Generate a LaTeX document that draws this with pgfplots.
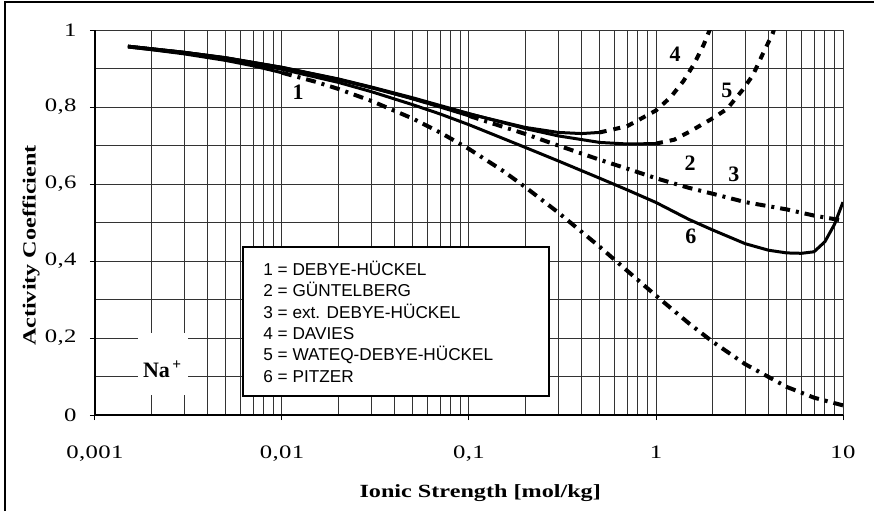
\documentclass[border=0pt]{standalone}
\usepackage{fontspec}
\setmainfont{Liberation Serif}
\newfontfamily\arialfont{Liberation Sans}
\newfontfamily\tickfont[FakeStretch=1.3, LetterSpace=2]{Liberation Serif}
\newfontfamily\labfont[FakeStretch=1.3]{Liberation Serif}
\usepackage{pgfplots}
\pgfplotsset{compat=1.18}

\begin{document}
\begin{tikzpicture}
% page = 874 x 511 px at 0.5pt per px, axis box origin at px (95,415)
\path[use as bounding box] (-47.5pt,-48pt) rectangle (389.5pt,207.5pt);
\draw[line width=0.75pt] (-45pt,-48pt) -- (-45pt,206.5pt) -- (389.5pt,206.5pt);
\begin{axis}[
  at={(0,0)}, anchor=south west,
  scale only axis, width=374pt, height=192.5pt,
  xmode=log, xmin=0.001, xmax=10, ymin=0, ymax=1,
  axis lines*=left,
  axis line style={line width=1pt},
  xtick={0.001,0.01,0.1,1,10},
  xticklabels={{0,001},{0,01},{0,1},1,10},
  ytick={0,0.2,0.4,0.6,0.8,1},
  yticklabels={0,{0,2},{0,4},{0,6},{0,8},1},
  minor ytick={0.1,0.3,0.5,0.7,0.9},
  grid=both,
  major grid style={black!80, line width=0.5pt},
  minor grid style={black!80, line width=0.5pt},
  tick align=outside,
  major tick length=2.5pt, minor tick length=0pt,
  tick style={black, line width=0.5pt},
  /pgf/number format/assume math mode=true,
  ticklabel style={font=\tickfont\fontsize{9.5}{11}\selectfont},
  xticklabel style={anchor=base, yshift=-19pt},
  yticklabel style={anchor=east, inner sep=0pt, xshift=-6.5pt},
  xlabel={Ionic Strength [mol/kg]},
  ylabel={Activity Coefficient},
  xlabel style={font=\labfont\bfseries\fontsize{9.3}{10}\selectfont,
    at={(axis description cs:0.515,-0.213)}, anchor=base},
  ylabel style={font=\labfont\bfseries\fontsize{9.3}{10}\selectfont,
    at={(axis description cs:-0.0856,0.44)}, anchor=center},
  solidline/.style={black, line width=1.5pt},
  dashdotline/.style={black, line width=2pt, dash pattern=on 5pt off 3pt on 1.5pt off 3pt},
  dashline/.style={black, line width=2pt, dash pattern=on 3.5pt off 3.5pt},
]
% 1 = DEBYE-HUECKEL
\addplot[solidline] coordinates {
  (0.0015,0.956) (0.002,0.949) (0.003,0.938) (0.005,0.921) (0.007,0.907) (0.01,0.889)
};
\addplot[dashdotline] coordinates {
  (0.01,0.889) (0.015,0.866) (0.02,0.847) (0.03,0.816) (0.05,0.770) (0.07,0.734)
  (0.1,0.691) (0.15,0.636) (0.2,0.592) (0.3,0.526) (0.5,0.437) (0.7,0.375)
  (1,0.310) (1.5,0.238) (2,0.191) (3,0.132) (5,0.073) (7,0.045) (10,0.025)
};
% 3 = ext. DEBYE-HUECKEL
\addplot[solidline] coordinates {
  (0.0015,0.958) (0.003,0.942) (0.005,0.928) (0.01,0.903) (0.02,0.872)
  (0.03,0.851) (0.05,0.821) (0.07,0.800) (0.1,0.777)
};
\addplot[dashdotline] coordinates {
  (0.1,0.777) (0.2,0.730) (0.3,0.700) (0.5,0.663) (0.7,0.640) (1,0.615)
  (1.5,0.590) (2,0.575) (3,0.553) (5,0.534) (7,0.518) (10,0.505)
};
% 4 = DAVIES
\addplot[solidline] coordinates {
  (0.0015,0.958) (0.003,0.942) (0.005,0.927) (0.01,0.902) (0.02,0.871)
  (0.03,0.850) (0.05,0.822) (0.07,0.802) (0.1,0.782) (0.2,0.747)
  (0.3,0.734) (0.4,0.731) (0.5,0.734)
};
\addplot[dashline] coordinates {
  (0.5,0.734) (0.7,0.750) (1,0.791) (1.2,0.826) (1.4,0.867) (1.6,0.912)
  (1.8,0.962) (2,1.017)
};
% 5 = WATEQ-DEBYE-HUECKEL
\addplot[solidline] coordinates {
  (0.0015,0.958) (0.003,0.942) (0.005,0.928) (0.01,0.903) (0.02,0.873)
  (0.03,0.852) (0.05,0.824) (0.07,0.804) (0.1,0.783) (0.2,0.744)
  (0.3,0.725) (0.5,0.708) (0.7,0.704) (1,0.705)
};
\addplot[dashline] coordinates {
  (1,0.705) (1.25,0.715) (1.5,0.735) (2,0.770) (2.4,0.795) (2.9,0.844)
  (3.3,0.883) (3.7,0.935) (4.2,0.990) (4.4,1.02)
};
% 6 = PITZER
\addplot[solidline] coordinates {
  (0.0015,0.956) (0.003,0.940) (0.005,0.925) (0.01,0.898) (0.02,0.864)
  (0.03,0.840) (0.05,0.806) (0.07,0.782) (0.1,0.754) (0.2,0.695)
  (0.3,0.660) (0.5,0.615) (0.7,0.585) (1,0.552) (1.5,0.508) (2,0.481)
  (3,0.445) (4,0.428) (5,0.421) (6,0.420) (7,0.424) (8,0.450) (9,0.495) (10,0.553)
};
% curve numbers
\begin{scope}[font=\fontsize{11}{13}\selectfont\bfseries]
\node at (axis cs:0.01218,0.838) {1};
\node at (axis cs:1.52,0.653) {2};
\node at (axis cs:2.61,0.626) {3};
\node at (axis cs:1.264,0.936) {4};
\node at (axis cs:2.397,0.844) {5};
\node at (axis cs:1.538,0.465) {6};
\end{scope}
% ion label
\node[fill=white, minimum width=25pt, minimum height=31pt, inner sep=0pt]
  at (axis cs:0.00231,0.1325) {};
\node[anchor=base, inner sep=0pt, font=\fontsize{11}{13}\selectfont\bfseries]
  at (axis cs:0.0023,0.0987) {Na\textsuperscript{\,+}};
% key box
\draw[line width=1pt, fill=white] (rel axis cs:0.198,0.049) rectangle (rel axis cs:0.607,0.436);
\begin{scope}[font=\arialfont\fontsize{8.6}{10}\selectfont, anchor=base west, inner sep=0pt]
\node at (rel axis cs:0.2246,0.3636) {1 = DEBYE-HÜCKEL};
\node at (rel axis cs:0.2246,0.3078) {2 = GÜNTELBERG};
\node at (rel axis cs:0.2246,0.2519) {3 = ext. DEBYE-HÜCKEL};
\node at (rel axis cs:0.2246,0.1961) {4 = DAVIES};
\node at (rel axis cs:0.2246,0.1403) {5 = WATEQ-DEBYE-HÜCKEL};
\node at (rel axis cs:0.2246,0.0844) {6 = PITZER};
\end{scope}
\end{axis}
\end{tikzpicture}
\end{document}
